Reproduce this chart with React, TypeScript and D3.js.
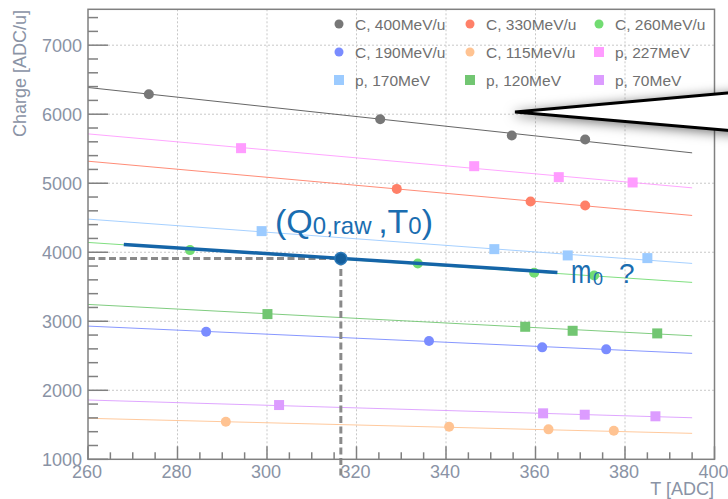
import React from "react";
import * as d3 from "d3";

const seriesNames = ["C, 400MeV/u", "C, 330MeV/u", "C, 260MeV/u", "C, 190MeV/u", "C, 115MeV/u", "p, 227MeV", "p, 170MeV", "p, 120MeV", "p, 70MeV"];
const seriesShapes = ["circle", "circle", "circle", "circle", "circle", "square", "square", "square", "square"];
const seriesColors = ["#777777", "#ff8068", "#72dc72", "#7a8cff", "#ffc392", "#ff9cff", "#9ccbff", "#72c672", "#dc9cff"];
const seriesT = [
  [273.6, 325.3, 354.7, 371.1],
  [329.0, 358.9, 371.1],
  [282.8, 333.7, 359.7, 373.1],
  [286.4, 336.2, 361.5, 375.8],
  [290.8, 340.7, 362.9, 377.5],
  [294.2, 346.3, 365.2, 381.7],
  [298.8, 350.8, 367.2, 385.0],
  [300.1, 357.7, 368.3, 387.2],
  [302.7, 361.7, 371.0, 386.8],
];
const seriesQ = [
  [6290, 5928, 5692, 5634],
  [4918, 4736, 4678],
  [4031, 3838, 3702, 3664],
  [2848, 2713, 2622, 2593],
  [1544, 1472, 1434, 1414],
  [5508, 5247, 5088, 5011],
  [4306, 4045, 3954, 3915],
  [3104, 2920, 2862, 2824],
  [1786, 1666, 1646, 1623],
];
const fitT = [260, 395];
const fitQStart = [6387, 5319, 4142, 2930, 1594, 5715, 4480, 3244, 1859];
const fitQEnd = [5440, 4533, 3563, 2535, 1376, 4933, 3838, 2790, 1602];

const refLineT = [268.0, 364.9];
const refLineQ = [4113, 3708];
const refPointT = 316.5;
const refPointQ = 3910;

const xMajorTicks = [260, 280, 300, 320, 340, 360, 380, 400];
const yMajorTicks = [1000, 2000, 3000, 4000, 5000, 6000, 7000];

const FONT = "'Liberation Sans', Arial, sans-serif";

export default function App() {
  const W = 728, H = 499;
  const left = 88, right = 714.5, top = 9.3, bottom = 459.3;
  const x = d3.scaleLinear().domain([260, 400]).range([left, right]);
  const y = d3.scaleLinear().domain([1000, 7520]).range([bottom, top]);

  const xMinor = d3.range(260, 400.1, 5);
  const yMinor = d3.range(1000, 7500, 200);
  const axisColor = "#808080";
  const labelColor = "#8a93a5";
  const line = d3.line<[number, number]>().x((d) => x(d[0])).y((d) => y(d[1]));

  const legendCols = [339, 470, 599];
  const legendRows = [24, 52, 80];
  const blue = "#1a6db0";

  return (
    <svg width={W} height={H} style={{ position: "absolute", left: 0, top: 0, background: "#fff" }} fontFamily={FONT}>
      <defs>
        <filter id="shadow" x="-20%" y="-100%" width="140%" height="300%">
          <feDropShadow dx="0" dy="2" stdDeviation="6" floodColor="#000" floodOpacity="0.55" />
        </filter>
      </defs>
      <rect x={0} y={0} width={W} height={H} fill="#fff" />
      {/* grid */}
      {xMajorTicks.slice(1, -1).map((t) => (
        <line key={"gx" + t} x1={x(t)} x2={x(t)} y1={top} y2={bottom} stroke="#c8c8c8" strokeDasharray="2,2" strokeWidth={1} />
      ))}
      {yMajorTicks.slice(1).map((t) => (
        <line key={"gy" + t} x1={left} x2={right} y1={y(t)} y2={y(t)} stroke="#c8c8c8" strokeDasharray="2,2" strokeWidth={1} />
      ))}
      {/* fit lines */}
      {seriesNames.map((n, i) => (
        <path key={"fit" + i} d={line([[fitT[0], fitQStart[i]], [fitT[1], fitQEnd[i]]])!} stroke={i === 0 ? "#555" : seriesColors[i]} strokeWidth={1} fill="none" opacity={0.9} />
      ))}
      {/* points */}
      {seriesNames.map((n, i) =>
        seriesT[i].map((t, j) =>
          seriesShapes[i] === "circle" ? (
            <circle key={`p${i}-${j}`} cx={x(t)} cy={y(seriesQ[i][j])} r={5} fill={seriesColors[i]} />
          ) : (
            <rect key={`p${i}-${j}`} x={x(t) - 5} y={y(seriesQ[i][j]) - 5} width={10} height={10} fill={seriesColors[i]} />
          )
        )
      )}
      {/* reference dashed lines */}
      <line x1={left} x2={x(refPointT)} y1={y(refPointQ)} y2={y(refPointQ)} stroke="#8a8a8a" strokeWidth={3} strokeDasharray="7,3.5" />
      <line x1={x(refPointT)} x2={x(refPointT)} y1={y(refPointQ)} y2={bottom + 17} stroke="#8a8a8a" strokeWidth={3} strokeDasharray="7,3.5" />
      {/* thick reference line */}
      <path d={line([[refLineT[0], refLineQ[0]], [refLineT[1], refLineQ[1]]])!} stroke="#1565a8" strokeWidth={3.5} fill="none" />
      <circle cx={x(refPointT)} cy={y(refPointQ)} r={6} fill="#135e9c" stroke="#2a78b8" strokeWidth={1.5} />
      {/* frame */}
      <rect x={left} y={top} width={right - left} height={bottom - top} fill="none" stroke={axisColor} strokeWidth={1.5} />
      {/* ticks */}
      {yMinor.map((t) => {
        const major = t % 1000 === 0;
        return <line key={"ty" + t} x1={left} x2={left + (major ? 20 : 10)} y1={y(t)} y2={y(t)} stroke={axisColor} strokeWidth={1.5} />;
      })}
      {xMinor.map((t) => {
        const major = t % 20 === 0;
        return <line key={"tx" + t} x1={x(t)} x2={x(t)} y1={bottom} y2={bottom - (major ? 13 : 7)} stroke={axisColor} strokeWidth={1.5} />;
      })}
      {/* tick labels */}
      {yMajorTicks.map((t) => (
        <text key={"ly" + t} x={left - 6} y={y(t) + 6.5} textAnchor="end" fontSize={18} fill={labelColor}>{t}</text>
      ))}
      {xMajorTicks.map((t) => (
        <text key={"lx" + t} x={x(t) - 1} y={478} textAnchor="middle" fontSize={18} fill={labelColor}>{t}</text>
      ))}
      {/* axis titles */}
      <text transform={`translate(26,10) rotate(-90)`} textAnchor="end" fontSize={18} fill={labelColor}>Charge [ADC/u]</text>
      <text x={714} y={495} textAnchor="end" fontSize={18} fill={labelColor}>T [ADC]</text>
      {/* legend */}
      {seriesNames.map((n, i) => {
        const cx = legendCols[i % 3];
        const cy = legendRows[Math.floor(i / 3)];
        return (
          <g key={"lg" + i}>
            {seriesShapes[i] === "circle" ? (
              <circle cx={cx} cy={cy} r={4.5} fill={seriesColors[i]} />
            ) : (
              <rect x={cx - 5} y={cy - 5} width={10} height={10} fill={seriesColors[i]} />
            )}
            <text x={cx + 16} y={cy + 5.5} fontSize={15.5} fill="#707070">{n}</text>
          </g>
        );
      })}
      {/* annotations */}
      <text x={275} y={233} fontSize={34} fill={blue}>
        (Q<tspan fontSize={24} dy={1}>0,raw </tspan><tspan dy={-1}>,T</tspan><tspan fontSize={24} dy={1}>0</tspan><tspan dy={-1}>)</tspan>
      </text>
      <text transform="translate(571,283) scale(0.72,1)" fontSize={34} fill={blue}>m</text>
      <text x={593} y={285} fontSize={18} fill={blue}>0</text>
      <text x={619} y={283} fontSize={28} fill={blue}>?</text>
      {/* callout wedge */}
      <polygon points="515,112 760,90 760,133" fill="#fff" stroke="#000" strokeWidth={3} strokeLinejoin="miter" filter="url(#shadow)" />
    </svg>
  );
}
